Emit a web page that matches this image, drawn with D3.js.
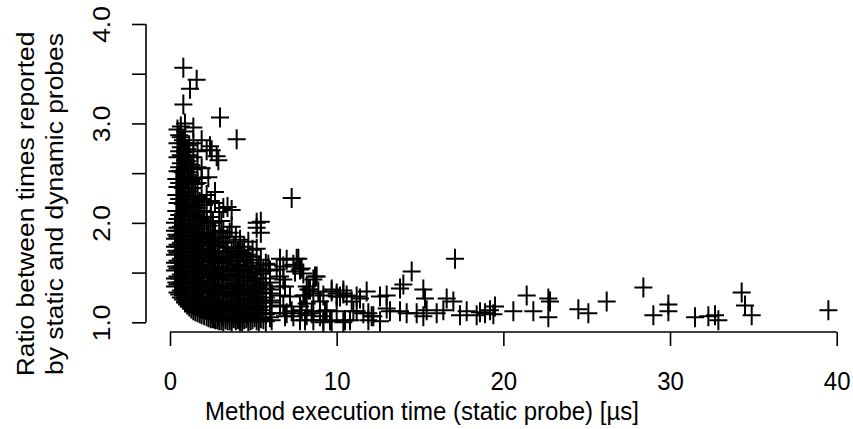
<!DOCTYPE html>
<html>
<head>
<meta charset="utf-8">
<script src="https://cdn.jsdelivr.net/npm/d3@7"></script>
<style>
  html, body { margin: 0; padding: 0; background: #fff; }
  svg { display: block; }
  text { font-family: "Liberation Sans", Arial, Helvetica, sans-serif; fill: #000; }
</style>
</head>
<body>
<svg id="chart" width="853" height="429"></svg>
<script>
// ---- data: [method execution time (µs), ratio static/dynamic] ----
const clusterShort = [
  [0.3,1.36],[0.3,1.44],[0.3,1.52],[0.3,1.60],[0.3,1.68],[0.3,1.76],[0.3,1.84],[0.3,1.92],[0.3,2.00],
  [0.38,1.40],[0.38,1.56],[0.38,1.72],[0.38,1.88],[0.38,2.12],[0.38,2.28],[0.38,2.44],
  [0.45,1.30],[0.45,1.38],[0.45,1.46],[0.45,1.54],[0.45,1.62],[0.45,1.70],[0.45,1.78],[0.45,1.86],[0.45,1.95],[0.45,2.04],[0.45,2.20],[0.45,2.36],[0.45,2.52],[0.45,2.66],[0.45,2.80],[0.45,2.94],
  [0.55,1.28],[0.55,1.44],[0.55,1.60],[0.55,1.76],[0.55,1.92],[0.55,2.08],[0.55,2.24],[0.55,2.40],[0.55,2.56],[0.55,2.72],[0.55,2.88],
  [0.65,1.25],[0.65,1.32],[0.65,1.40],[0.65,1.48],[0.65,1.56],[0.65,1.64],[0.65,1.72],[0.65,1.80],[0.65,1.88],[0.65,1.96],[0.65,2.04],[0.65,2.12],[0.65,2.20],[0.65,2.28],[0.65,2.36],[0.65,2.44],[0.65,2.52],[0.65,2.60],[0.65,2.68],[0.65,2.76],[0.65,2.86],[0.65,2.97],
  [0.78,1.23],[0.78,1.39],[0.78,1.55],[0.78,1.71],[0.78,1.87],[0.78,2.03],[0.78,2.19],[0.78,2.35],[0.78,2.51],[0.78,2.67],[0.78,2.83],
  [0.9,1.20],[0.9,1.27],[0.9,1.35],[0.9,1.43],[0.9,1.51],[0.9,1.59],[0.9,1.67],[0.9,1.75],[0.9,1.83],[0.9,1.91],[0.9,1.99],[0.9,2.07],[0.9,2.15],[0.9,2.23],[0.9,2.31],[0.9,2.39],[0.9,2.47],[0.9,2.55],[0.9,2.63],[0.9,2.71],[0.9,2.80],[0.9,2.92],[0.9,3.00],
  [1.03,1.18],[1.03,1.34],[1.03,1.50],[1.03,1.66],[1.03,1.82],[1.03,1.98],[1.03,2.14],[1.03,2.30],[1.03,2.46],[1.03,2.62],[1.03,2.74],
  [1.15,1.16],[1.15,1.23],[1.15,1.31],[1.15,1.39],[1.15,1.47],[1.15,1.55],[1.15,1.63],[1.15,1.71],[1.15,1.79],[1.15,1.87],[1.15,1.95],[1.15,2.03],[1.15,2.11],[1.15,2.19],[1.15,2.27],[1.15,2.35],[1.15,2.43],[1.15,2.51],[1.15,2.59],[1.15,2.68],[1.15,2.78],
  [1.28,1.14],[1.28,1.30],[1.28,1.46],[1.28,1.62],[1.28,1.78],[1.28,1.94],[1.28,2.10],[1.28,2.26],[1.28,2.42],[1.28,2.58],
  [1.4,1.12],[1.4,1.19],[1.4,1.27],[1.4,1.35],[1.4,1.43],[1.4,1.51],[1.4,1.59],[1.4,1.67],[1.4,1.75],[1.4,1.83],[1.4,1.91],[1.4,1.99],[1.4,2.08],[1.4,2.17],[1.4,2.26],[1.4,2.35],[1.4,2.44],[1.4,2.54],[1.4,2.66],[1.4,2.80],[1.4,2.96],
  [1.52,1.11],[1.52,1.27],[1.52,1.43],[1.52,1.59],[1.52,1.75],[1.52,1.91],[1.52,2.07],[1.52,2.23],[1.52,2.39],
  [1.65,1.10],[1.65,1.17],[1.65,1.24],[1.65,1.32],[1.65,1.40],[1.65,1.48],[1.65,1.56],[1.65,1.64],[1.65,1.72],[1.65,1.80],[1.65,1.88],[1.65,1.97],[1.65,2.06],[1.65,2.15],[1.65,2.26],[1.65,2.40],[1.65,2.56],[1.65,2.72],
  [1.78,1.09],[1.78,1.25],[1.78,1.41],[1.78,1.57],[1.78,1.73],[1.78,1.89],[1.78,2.05],[1.78,2.21],
  [1.9,1.08],[1.9,1.14],[1.9,1.21],[1.9,1.29],[1.9,1.37],[1.9,1.45],[1.9,1.53],[1.9,1.61],[1.9,1.69],[1.9,1.77],[1.9,1.85],[1.9,1.94],[1.9,2.03],[1.9,2.12],[1.9,2.24],[1.9,2.45],[1.9,2.55],[1.9,2.83],
  [0.8,3.56],[1.6,3.44],[1.2,3.35],[0.8,3.19],[3.0,3.06],[4.0,2.84],[2.2,2.73],[2.9,2.63],[2.4,2.77],[2.5,2.73],[2.3,2.46],[2.8,2.67]
];

const clusterMid = [
  [2.05,1.07],[2.05,1.22],[2.05,1.38],[2.05,1.54],[2.05,1.70],[2.05,1.86],[2.05,2.02],[2.05,2.18],
  [2.2,1.06],[2.2,1.12],[2.2,1.18],[2.2,1.25],[2.2,1.33],[2.2,1.41],[2.2,1.49],[2.2,1.57],[2.2,1.65],[2.2,1.73],[2.2,1.81],[2.2,1.90],[2.2,2.00],[2.2,2.11],[2.2,2.28],
  [2.32,1.05],[2.32,1.19],[2.32,1.35],[2.32,1.51],[2.32,1.67],[2.32,1.83],[2.32,1.97],
  [2.45,1.04],[2.45,1.09],[2.45,1.15],[2.45,1.22],[2.45,1.30],[2.45,1.38],[2.45,1.46],[2.45,1.54],[2.45,1.62],[2.45,1.70],[2.45,1.79],[2.45,1.88],[2.45,2.06],[2.45,2.22],
  [2.58,1.04],[2.58,1.17],[2.58,1.33],[2.58,1.49],[2.58,1.65],[2.58,1.84],[2.58,2.00],
  [2.7,1.03],[2.7,1.08],[2.7,1.14],[2.7,1.21],[2.7,1.29],[2.7,1.37],[2.7,1.45],[2.7,1.53],[2.7,1.62],[2.7,1.71],[2.7,1.81],[2.7,1.90],[2.7,2.20],[2.7,2.31],
  [2.83,1.03],[2.83,1.16],[2.83,1.31],[2.83,1.47],[2.83,1.63],[2.83,1.77],
  [2.95,1.02],[2.95,1.06],[2.95,1.13],[2.95,1.20],[2.95,1.28],[2.95,1.36],[2.95,1.44],[2.95,1.52],[2.95,1.61],[2.95,1.70],[2.95,1.80],[2.95,1.92],[2.95,2.11],
  [3.08,1.02],[3.08,1.15],[3.08,1.30],[3.08,1.46],[3.08,1.63],[3.08,1.85],[3.08,2.02],
  [3.2,1.01],[3.2,1.06],[3.2,1.12],[3.2,1.19],[3.2,1.27],[3.2,1.35],[3.2,1.43],[3.2,1.51],[3.2,1.60],[3.2,1.70],[3.2,1.80],[3.2,1.91],[3.2,2.15],
  [3.33,1.03],[3.33,1.16],[3.33,1.31],[3.33,1.48],[3.33,1.66],[3.33,1.81],
  [3.45,1.02],[3.45,1.07],[3.45,1.13],[3.45,1.20],[3.45,1.28],[3.45,1.37],[3.45,1.46],[3.45,1.55],[3.45,1.64],[3.45,1.75],[3.45,1.86],[3.45,2.16],
  [3.58,1.02],[3.58,1.15],[3.58,1.30],[3.58,1.47],[3.58,1.67],[3.58,1.90],
  [3.7,1.01],[3.7,1.05],[3.7,1.12],[3.7,1.18],[3.7,1.26],[3.7,1.34],[3.7,1.43],[3.7,1.52],[3.7,1.62],[3.7,1.72],[3.7,1.96],[3.7,2.13],
  [3.83,1.04],[3.83,1.17],[3.83,1.34],[3.83,1.52],[3.83,1.75],
  [3.95,1.02],[3.95,1.07],[3.95,1.14],[3.95,1.22],[3.95,1.30],[3.95,1.39],[3.95,1.48],[3.95,1.58],[3.95,1.68],[3.95,1.86],
  [4.08,1.03],[4.08,1.17],[4.08,1.34],[4.08,1.52],[4.08,1.72],
  [4.2,1.01],[4.2,1.06],[4.2,1.13],[4.2,1.20],[4.2,1.29],[4.2,1.38],[4.2,1.47],[4.2,1.57],[4.2,1.66],[4.2,1.83],
  [4.33,1.01],[4.33,1.12],[4.33,1.28],[4.33,1.46],[4.33,1.70],
  [4.45,1.03],[4.45,1.09],[4.45,1.16],[4.45,1.24],[4.45,1.33],[4.45,1.42],[4.45,1.52],[4.45,1.62],[4.45,1.76],
  [4.58,1.04],[4.58,1.16],[4.58,1.32],[4.58,1.50],[4.58,1.63],
  [4.7,1.01],[4.7,1.06],[4.7,1.12],[4.7,1.20],[4.7,1.28],[4.7,1.37],[4.7,1.46],[4.7,1.56],[4.7,1.68],[4.7,1.81],
  [4.83,1.02],[4.83,1.14],[4.83,1.28],[4.83,1.45],[4.83,1.60],
  [4.95,1.03],[4.95,1.09],[4.95,1.16],[4.95,1.23],[4.95,1.32],[4.95,1.41],[4.95,1.51],[4.95,1.66],[4.95,1.73],
  [5.08,1.05],[5.08,1.13],[5.08,1.29],[5.08,1.48],
  [5.2,1.02],[5.2,1.09],[5.2,1.17],[5.2,1.25],[5.2,1.35],[5.2,1.44],[5.2,1.54],[5.2,1.74],[5.2,1.95],[5.2,2.00],
  [5.33,1.01],[5.33,1.15],[5.33,1.34],[5.33,1.57],
  [5.45,1.04],[5.45,1.12],[5.45,1.20],[5.45,1.30],[5.45,1.39],[5.45,1.49],[5.45,1.63],[5.45,1.90],[5.45,2.01],
  [5.6,1.03],[5.6,1.22],[5.6,1.37],[5.6,1.52],
  [5.75,1.01],[5.75,1.08],[5.75,1.16],[5.75,1.25],[5.75,1.34],[5.75,1.44],[5.75,1.59],
  [6.0,1.05],[6.0,1.09],[6.0,1.20],[6.0,1.33],[6.0,1.40],[6.0,1.52]
];

const tailLong = [
  [7.3,2.25],[6.6,1.64],[7.7,1.64],[6.4,1.53],[5.9,1.58],[7.9,1.54],[7.5,1.51],[8.7,1.46],[6.8,1.43],[6.9,1.36],
  [8.3,1.33],[8.1,1.27],[8.9,1.31],[9.7,1.31],[10.0,1.26],[10.4,1.32],[6.1,1.29],[6.1,1.22],[6.6,1.17],[7.3,1.11],
  [6.0,1.09],[7.9,1.12],[8.5,1.09],[9.3,1.11],[9.2,1.02],[9.7,1.01],[10.5,1.02],[11.0,1.11],[11.9,1.09],[12.1,1.06],
  [8.1,1.02],[6.9,1.06],[6.1,1.02],[7.0,1.63],[7.4,1.58],[6.8,1.56],[7.6,1.64],[7.8,1.53],[8.0,1.49],[8.8,1.46],
  [8.6,1.43],[6.6,1.46],[6.6,1.36],[8.2,1.36],[8.4,1.33],[8.6,1.29],[9.2,1.27],[9.0,1.21],[8.0,1.27],[7.2,1.26],
  [6.6,1.27],[6.8,1.16],[7.8,1.16],[8.2,1.19],[7.0,1.09],[7.4,1.06],[7.8,1.09],[8.2,1.07],[8.6,1.11],[9.0,1.06],
  [9.4,1.12],[10.0,1.11],[9.6,1.02],[9.2,1.00],[10.4,1.00],[10.8,1.02],[7.8,1.02],[8.6,1.02],[9.7,1.33],[10.0,1.29],
  [10.2,1.26],[10.4,1.29],[10.6,1.27],[10.9,1.21],[11.2,1.26],[11.4,1.24],[11.8,1.31],[12.6,1.26],[13.0,1.27],[11.6,1.09],
  [11.9,1.02],[12.2,1.06],[12.6,1.01],[13.0,1.14],[13.2,1.11],[13.8,1.11],[14.2,1.09],[14.8,1.09],[11.2,1.11],[13.8,1.34],
  [14.0,1.38],[14.5,1.51],[15.2,1.33],[15.3,1.24],[15.4,1.12],[15.2,1.06],[16.0,1.09],[16.4,1.12],[16.6,1.24],[17.0,1.21],
  [17.1,1.64],[17.4,1.07],[17.8,1.11],[18.4,1.07],
  [18.6,1.10],[19.2,1.12],[19.5,1.16],[18.9,1.09],[19.4,1.08],[20.6,1.11],[21.4,1.27],[21.8,1.11],[22.7,1.24],[22.8,1.21],
  [22.7,1.05],[24.5,1.13],[25.1,1.09],[26.2,1.21],[28.4,1.35],[29.0,1.07],[29.9,1.18],[29.9,1.11],[31.5,1.05],[32.3,1.06],
  [32.7,1.07],[32.9,1.02],[34.3,1.30],[34.5,1.17],[34.9,1.07],[39.5,1.12]
];

const xTicks = [0, 10, 20, 30, 40];
const yTicks = [1.0, 1.5, 2.0, 2.5, 3.0, 3.5, 4.0];
const yTickLabels = ["1.0", "", "2.0", "", "3.0", "", "4.0"];
const xTitle = "Method execution time (static probe) [µs]";
const yTitleLines = ["Ratio between times reported", "by static and dynamic probes"];

// ---- drawing ----
const svg = d3.select("#chart");
const x = d3.scaleLinear().domain([0, 40]).range([170, 836.7]);
const y = d3.scaleLinear().domain([1, 4]).range([322.3, 24]);
const axisX = 332, axisY = 146;
const FONT = 24;
const STRETCH = 1.1; // reference glyphs are taller than wide

const points = clusterShort.concat(clusterMid, tailLong);
const armH = 9, armV = 10;
const g = svg.append("g").attr("stroke", "#000").attr("stroke-width", 2).attr("fill", "none");
g.selectAll("path.pt").data(points).join("path")
  .attr("class", "pt")
  .attr("d", d => {
    const px = x(d[0]), py = y(d[1]);
    return `M${px - armH},${py}H${px + armH}M${px},${py - armV}V${py + armV}`;
  });

// x axis
const xAxis = d3.axisBottom(x).tickValues(xTicks).tickSize(14).tickPadding(0).tickFormat(d3.format("d"));
const gx = svg.append("g").attr("transform", `translate(0,${axisX})`).call(xAxis);
gx.select(".domain").attr("d", `M${x(0)},0H${x(40)}`).attr("stroke-width", 1.6);
gx.selectAll(".tick line").attr("stroke-width", 1.6);
gx.selectAll(".tick text").attr("font-size", FONT).attr("font-family", null)
  .attr("dy", null).attr("y", null)
  .attr("transform", `translate(0,58) scale(1,${STRETCH})`);

// y axis
const yAxis = d3.axisLeft(y).tickValues(yTicks).tickSize(14).tickFormat((d, i) => yTickLabels[i]);
const gy = svg.append("g").attr("transform", `translate(${axisY},0)`).call(yAxis);
gy.select(".domain").attr("d", `M0,${y(1)}V${y(4)}`).attr("stroke-width", 1.6);
gy.selectAll(".tick line").attr("stroke-width", 1.6);
gy.selectAll(".tick text")
  .attr("font-size", FONT).attr("font-family", null)
  .attr("x", null).attr("dy", null)
  .attr("text-anchor", "middle")
  .attr("transform", `translate(-36,0) scale(1,${STRETCH}) rotate(-90)`);

svg.selectAll(".domain").attr("stroke", "#000");
svg.selectAll(".tick line").attr("stroke", "#000");

// titles
svg.append("text").attr("transform", `translate(422,420) scale(1,${STRETCH})`)
  .attr("text-anchor", "middle").attr("font-size", FONT).text(xTitle);

const yTitleBaselines = [34, 63];
yTitleLines.forEach((t, i) => {
  svg.append("text")
    .attr("transform", `translate(${yTitleBaselines[i]},204) scale(1,${STRETCH}) rotate(-90)`)
    .attr("text-anchor", "middle").attr("font-size", FONT).text(t);
});
</script>
</body>
</html>
